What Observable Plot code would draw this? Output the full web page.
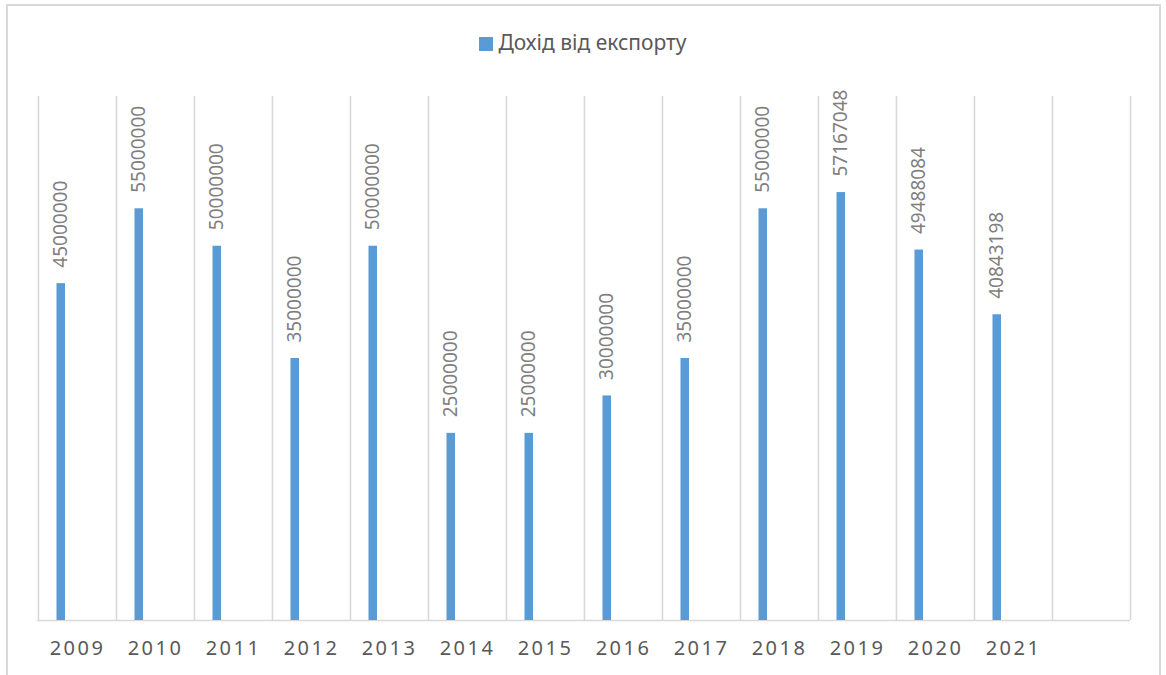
<!DOCTYPE html>
<html>
<head>
<meta charset="utf-8">
<script src="https://cdn.jsdelivr.net/npm/d3@7"></script>
<script src="https://cdn.jsdelivr.net/npm/@observablehq/plot@0.6"></script>
<style>
  html, body { margin: 0; padding: 0; background: #fff; }
  body { width: 1166px; height: 675px; overflow: hidden; position: relative; font-family: "Noto Sans", sans-serif; }
  #frame { position: absolute; left: 6px; top: 4px; width: 1155px; height: 800px; border: 2px solid #d9d9d9; box-sizing: border-box; }
  #legend { position: absolute; top: 28px; left: 0; width: 1166px; text-align: center; font-size: 21px; color: #595959; white-space: nowrap; }
  #legend .sw { display: inline-block; width: 14px; height: 14px; background: #5b9bd5; margin-right: 5px; vertical-align: -1px; }
  #chart { position: absolute; left: 0; top: 80px; }
  #chart svg { overflow: visible; }
  #chart g[aria-label="x-axis tick label"] text { letter-spacing: 2.5px; }
</style>
</head>
<body>
<div id="frame"></div>
<div id="legend"><span class="sw"></span><span id="legendText"></span></div>
<div id="chart"></div>
<script>
const seriesName = "Дохід від експорту";
const years = ["2009","2010","2011","2012","2013","2014","2015","2016","2017","2018","2019","2020","2021"];
const values = [45000000, 55000000, 50000000, 35000000, 50000000, 25000000, 25000000, 30000000, 35000000, 55000000, 57167048, 49488084, 40843198];
const categories = [...years, ""];
const yMax = 70000000;

document.getElementById("legendText").textContent = seriesName;

const data = years.map((year, i) => ({year, value: values[i]}));

const W = 1166, H = 595, mL = 37, mR = 36, mT = 16, mB = 55;
const bw = (W - mL - mR) / categories.length;
const grid = "#d9d9d9";

const chart = Plot.plot({
  width: W,
  height: H,
  marginTop: mT,
  marginBottom: mB,
  marginLeft: mL,
  marginRight: mR,
  style: {fontFamily: "'Noto Sans', sans-serif", background: "transparent"},
  x: {type: "band", domain: categories, padding: 0, label: null},
  y: {domain: [0, yMax], axis: null},
  marks: [
    Plot.ruleX(categories, {x: d => d, y1: 0, y2: yMax, stroke: grid, strokeWidth: 1.6, dx: -bw / 2}),
    Plot.ruleX(categories.slice(-1), {x: d => d, y1: 0, y2: yMax, stroke: grid, strokeWidth: 1.6, dx: bw / 2}),
    Plot.ruleY([0], {stroke: grid, strokeWidth: 1.6}),
    Plot.barY(data, {x: "year", y: "value", fill: "#5b9bd5", insetLeft: 18.5, insetRight: 51}),
    Plot.text(data, {x: "year", y: "value", text: d => String(d.value), rotate: -90, textAnchor: "start", dx: -16.2, dy: -16, fill: "#7f7f7f", fontSize: 19}),
    Plot.axisX({tickSize: 0, tickPadding: 20, fontSize: 20, fill: "#595959", label: null, tickFormat: d => d})
  ]
});
document.getElementById("chart").appendChild(chart);
</script>
</body>
</html>
